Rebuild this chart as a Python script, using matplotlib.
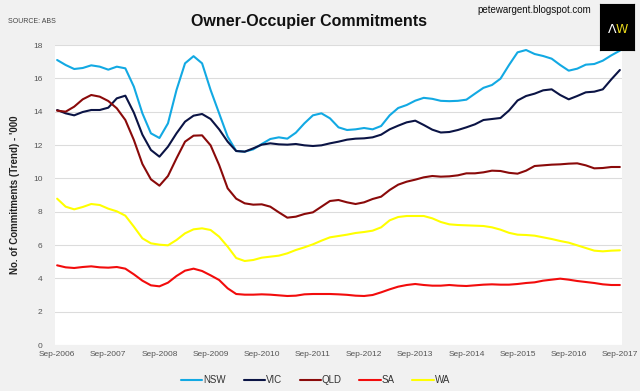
import numpy as np
import matplotlib
matplotlib.use("Agg")
import matplotlib.pyplot as plt
from matplotlib import font_manager

# bi-monthly readings, Sep-2006 .. Sep-2017 ('000 commitments, trend)
months = np.arange(0, 133, 2)
year_labels = ["Sep-%d" % y for y in range(2006, 2018)]

nsw = [17.1, 16.8, 16.56, 16.62, 16.78, 16.7, 16.52, 16.7, 16.6, 15.5, 13.9, 12.7, 12.42, 13.3, 15.3, 16.9,
       17.33, 16.9, 15.3, 13.9, 12.5, 11.64, 11.6, 11.74, 12.06, 12.36, 12.46, 12.38, 12.74, 13.3, 13.78, 13.9,
       13.6, 13.06, 12.9, 12.94, 13.02, 12.94, 13.14, 13.78, 14.22, 14.4, 14.66, 14.83, 14.77, 14.65, 14.63,
       14.65, 14.72, 15.08, 15.43, 15.6, 15.98, 16.8, 17.56, 17.7, 17.46, 17.34, 17.18, 16.8, 16.46, 16.58,
       16.82, 16.86, 17.06, 17.38, 17.66]
vic = [14.1, 13.9, 13.78, 13.98, 14.1, 14.1, 14.24, 14.8, 14.96, 13.94, 12.62, 11.7, 11.3, 11.9, 12.7, 13.4,
       13.76, 13.86, 13.56, 12.94, 12.2, 11.64, 11.6, 11.8, 12.02, 12.1, 12.04, 12.02, 12.06, 11.98, 11.94,
       11.98, 12.1, 12.2, 12.32, 12.38, 12.4, 12.46, 12.62, 12.94, 13.16, 13.36, 13.46, 13.2, 12.92, 12.75,
       12.78, 12.9, 13.06, 13.24, 13.5, 13.56, 13.62, 14.07, 14.67, 14.94, 15.08, 15.28, 15.34, 15.0, 14.74,
       14.94, 15.16, 15.2, 15.34, 15.94, 16.5]
qld = [14.06, 14.0, 14.3, 14.74, 15.0, 14.9, 14.64, 14.2, 13.5, 12.3, 10.86, 9.94, 9.56, 10.14, 11.2, 12.2,
       12.56, 12.58, 11.98, 10.8, 9.4, 8.78, 8.5, 8.42, 8.44, 8.3, 7.96, 7.64, 7.7, 7.86, 7.96, 8.3, 8.64, 8.7,
       8.56, 8.46, 8.56, 8.76, 8.9, 9.3, 9.62, 9.8, 9.92, 10.06, 10.14, 10.1, 10.12, 10.18, 10.3, 10.3, 10.36,
       10.46, 10.44, 10.33, 10.28, 10.46, 10.74, 10.78, 10.82, 10.84, 10.88, 10.9, 10.78, 10.6, 10.62, 10.68,
       10.68]
sa = [4.78, 4.66, 4.62, 4.68, 4.72, 4.66, 4.64, 4.68, 4.58, 4.24, 3.86, 3.58, 3.52, 3.74, 4.14, 4.46, 4.58,
      4.44, 4.18, 3.9, 3.4, 3.06, 3.02, 3.02, 3.04, 3.02, 2.98, 2.94, 2.96, 3.04, 3.06, 3.06, 3.06, 3.04, 3.01,
      2.96, 2.94, 3.0, 3.16, 3.34, 3.5, 3.6, 3.66, 3.6, 3.56, 3.56, 3.6, 3.56, 3.54, 3.58, 3.62, 3.64, 3.62,
      3.62, 3.66, 3.72, 3.76, 3.86, 3.92, 3.98, 3.92, 3.84, 3.78, 3.72, 3.64, 3.6, 3.6]
wa = [8.78, 8.3, 8.14, 8.28, 8.46, 8.4, 8.18, 8.02, 7.76, 7.1, 6.4, 6.1, 6.02, 5.98, 6.3, 6.7, 6.94, 7.0,
      6.9, 6.5, 5.9, 5.22, 5.04, 5.1, 5.24, 5.3, 5.36, 5.5, 5.7, 5.86, 6.04, 6.26, 6.46, 6.54, 6.62, 6.72,
      6.78, 6.86, 7.06, 7.48, 7.68, 7.74, 7.74, 7.74, 7.6, 7.38, 7.24, 7.2, 7.18, 7.16, 7.14, 7.06, 6.92,
      6.73, 6.62, 6.6, 6.56, 6.46, 6.36, 6.24, 6.14, 5.98, 5.82, 5.66, 5.62, 5.66, 5.68]

series = [("NSW", nsw, "#12a9e3"), ("VIC", vic, "#0b1445"), ("QLD", qld, "#8a0a0a"),
          ("SA", sa, "#f20c0c"), ("WA", wa, "#ffff00")]

# narrow font like the original if it's around
names = {f.name for f in font_manager.fontManager.ttflist}
narrow = "Liberation Sans Narrow" if "Liberation Sans Narrow" in names else "Liberation Sans"

bg = "#f1f1f1"
fig = plt.figure(figsize=(6.4, 3.91), dpi=100, facecolor=bg)
ax = fig.add_axes([55 / 640, 1 - 345 / 391, 567 / 640, 300 / 391])
ax.set_facecolor("white")

for name, vals, col in series:
    ax.plot(months, vals, color=col, lw=1.5, label=name, solid_capstyle="round")

ax.set_xlim(-0.5, 132.5)
ax.set_ylim(0, 18)
ax.set_yticks(np.arange(0, 19, 2))
ax.set_xticks(np.arange(0, 133, 12))
ax.set_xticklabels(year_labels)
ax.grid(axis="y", color="#dcdcdc", lw=0.8)
ax.set_axisbelow(True)
for s in ax.spines.values():
    s.set_visible(False)
ax.tick_params(length=0, labelsize=6, labelcolor="#555555", pad=4)
for t in ax.get_xticklabels() + ax.get_yticklabels():
    t.set_family(narrow)
ax.tick_params(axis="y", pad=9)

ax.set_ylabel("No. of Commitments (Trend) - '000", fontsize=7, fontweight="bold",
              family="Liberation Sans", color="#222222", labelpad=9)

fig.text(0.483, 0.945, "Owner-Occupier Commitments", ha="center", va="center",
         fontsize=11.5, fontweight="bold", family=narrow, color="#111111")
fig.text(0.013, 0.945, "SOURCE: ABS", ha="left", va="center", fontsize=5,
         family=narrow, color="#444444")
fig.text(0.835, 0.975, "petewargent.blogspot.com", ha="center", va="center",
         fontsize=7, family="Liberation Sans", color="#111111")

# logo box
logo = fig.add_axes([600 / 640, 1 - 50 / 391, 34 / 640, 46 / 391])
logo.set_facecolor("black")
logo.set_xticks([])
logo.set_yticks([])
logo.text(0.36, 0.45, "Λ", color="white", fontsize=9, ha="center", va="center",
          family="DejaVu Sans")
logo.text(0.64, 0.45, "W", color="#e8d81c", fontsize=9, ha="center", va="center",
          family="DejaVu Sans")

leg = fig.legend(loc="center", bbox_to_anchor=(0.493, 0.028), ncol=5, frameon=False,
                 fontsize=7, handlelength=2.2, handletextpad=0.1, columnspacing=1.8)
for t in leg.get_texts():
    t.set_family(narrow)
    t.set_color("#333333")

fig.savefig("out.png", dpi=100, facecolor=bg)
